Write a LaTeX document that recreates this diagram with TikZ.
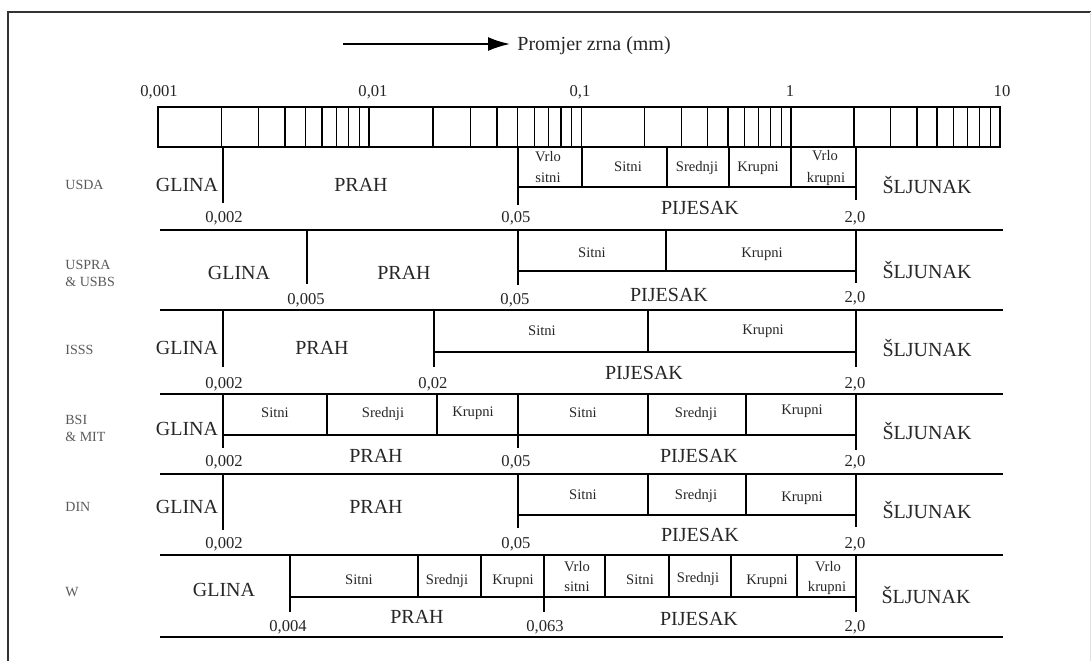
\documentclass[tikz,border=0pt]{standalone}
\usepackage{fontspec}
\setmainfont{Liberation Serif}
\usetikzlibrary{arrows.meta}
\begin{document}
\begin{tikzpicture}[x=0.5pt,y=-0.5pt,
  txt/.style={inner sep=0pt, text=black!85},
  big/.style={txt, font=\fontsize{10}{12}\selectfont, text height=6.6pt, text depth=0pt},
  sm/.style={txt, font=\fontsize{7.3}{8}\selectfont, text height=4.8pt, text depth=0pt},
  num/.style={txt, font=\fontsize{8.3}{10}\selectfont, text height=5.5pt, text depth=0pt},
  sys/.style={txt, anchor=west, text=black!65, font=\fontsize{7}{8.4}\selectfont, text height=4.6pt, text depth=0pt},
  rowline/.style={line width=1.3pt},
  vline/.style={line width=0.9pt},
  subline/.style={line width=0.9pt},
  barline/.style={line width=0.7pt}]
\useasboundingbox (0,0) rectangle (1091,661);
% frame
\draw[line width=1pt, black!80] (8,661) -- (8,11.5) -- (1091,11.5);
\draw[line width=0.5pt, black!12] (1090,11.5) -- (1090,661);
% title arrow
\coordinate (a1) at (343,44);
\node[big, anchor=west] (title) at (517,44) {Promjer zrna (mm)};
\draw[-{Latex[length=11pt,width=7pt]}, line width=1pt, shorten >=3.5pt] (a1) -- (title.west);
% scale bar
\draw[barline] (158,107) rectangle (1000,147);
\foreach \a/\b in {158/369,369/581.5,581.5/791,791/1000}{
  \foreach \m in {2,...,9}{\draw[barline] ({\a+(\b-\a)*log10(\m)},107) -- ++(0,40);}
  \draw[barline] (\b,107) -- (\b,147);}
\node[num] (t1) at (159,91) {0,001};
\node[num] (t2) at (373,91) {0,01};
\node[num] (t3) at (580,91) {0,1};
\node[num] (t4) at (790,91) {1};
\node[num] (t5) at (1002,91) {10};
% row lines
\foreach \y in {230,310,394,474,555,637} \draw[rowline] (160,\y) -- (1003,\y);
% ---------- USDA
\draw[vline] (223,147) -- (223,203);
\draw[vline] (518,147) -- (518,205);
\draw[vline] (856,147) -- (856,200);
\draw[subline] (518,187) -- (856,187);
\foreach \x in {582,667,729,791} \draw[subline] (\x,147) -- (\x,187);
\node[sys] (s1) at (65,185) {USDA};
\node[big] (u1) at (187,185) {GLINA};
\node[big] (u2) at (361,185) {PRAH};
\node[num] (u3) at (224,217) {0,002};
\node[num] (u4) at (516,217) {0,05};
\node[sm] (u5) at (548,157) {Vrlo};
\node[sm] (u6) at (548,178) {sitni};
\node[sm] (u7) at (628,167) {Sitni};
\node[sm] (u8) at (697,167) {Srednji};
\node[sm] (u9) at (758,167) {Krupni};
\node[sm] (u10) at (825,156) {Vrlo};
\node[sm] (u11) at (826,178) {krupni};
\node[big] (u12) at (700,208) {PIJESAK};
\node[num] (u13) at (855,217) {2,0};
\node[big] (u14) at (927,187) {ŠLJUNAK};
% ---------- USPRA & USBS
\draw[vline] (307,230) -- (307,284);
\draw[vline] (518,230) -- (518,285);
\draw[vline] (856,230) -- (856,283);
\draw[subline] (518,271) -- (856,271);
\draw[subline] (666,230) -- (666,271);
\node[sys] (s2) at (65,265) {USPRA};
\node[sys] (s2b) at (65,282) {\& USBS};
\node[big] (p1) at (239,273) {GLINA};
\node[big] (p2) at (404,273) {PRAH};
\node[num] (p3) at (306,299) {0,005};
\node[num] (p4) at (515,299) {0,05};
\node[sm] (p5) at (592,253) {Sitni};
\node[sm] (p6) at (762,253) {Krupni};
\node[big] (p7) at (669,295) {PIJESAK};
\node[num] (p8) at (855,297) {2,0};
\node[big] (p9) at (927,272) {ŠLJUNAK};
% ---------- ISSS
\draw[vline] (223,310) -- (223,367);
\draw[vline] (434,310) -- (434,367);
\draw[vline] (856,310) -- (856,367);
\draw[subline] (434,352) -- (856,352);
\draw[subline] (648,310) -- (648,352);
\node[sys] (s3) at (65,350) {ISSS};
\node[big] (i1) at (187,348) {GLINA};
\node[big] (i2) at (322,348) {PRAH};
\node[num] (i3) at (224,383) {0,002};
\node[num] (i4) at (433,383) {0,02};
\node[sm] (i5) at (542,331) {Sitni};
\node[sm] (i6) at (763,330) {Krupni};
\node[big] (i7) at (644,373) {PIJESAK};
\node[num] (i8) at (855,383) {2,0};
\node[big] (i9) at (927,350) {ŠLJUNAK};
% ---------- BSI & MIT
\draw[vline] (223,394) -- (223,448);
\draw[vline] (518,394) -- (518,448);
\draw[vline] (856,394) -- (856,450);
\draw[subline] (223,435) -- (856,435);
\foreach \x in {327,437,648,746} \draw[subline] (\x,394) -- (\x,435);
\node[sys] (s4) at (65,420) {BSI};
\node[sys] (s4b) at (65,437) {\& MIT};
\node[big] (b1) at (187,429) {GLINA};
\node[sm] (b2) at (275,413) {Sitni};
\node[sm] (b3) at (383,413) {Srednji};
\node[sm] (b4) at (473,412) {Krupni};
\node[sm] (b5) at (583,413) {Sitni};
\node[sm] (b6) at (696,413) {Srednji};
\node[sm] (b7) at (802,410) {Krupni};
\node[big] (b8) at (376,456) {PRAH};
\node[num] (b9) at (224,461) {0,002};
\node[num] (b10) at (516,461) {0,05};
\node[big] (b11) at (699,456) {PIJESAK};
\node[num] (b12) at (855,461) {2,0};
\node[big] (b13) at (927,433) {ŠLJUNAK};
% ---------- DIN
\draw[vline] (223,474) -- (223,530);
\draw[vline] (518,474) -- (518,528);
\draw[vline] (856,474) -- (856,527);
\draw[subline] (518,515) -- (856,515);
\foreach \x in {648,746} \draw[subline] (\x,474) -- (\x,515);
\node[sys] (s5) at (65,507) {DIN};
\node[big] (d1) at (187,507) {GLINA};
\node[big] (d2) at (376,507) {PRAH};
\node[num] (d3) at (224,543) {0,002};
\node[num] (d4) at (516,543) {0,05};
\node[sm] (d5) at (583,495) {Sitni};
\node[sm] (d6) at (696,495) {Srednji};
\node[sm] (d7) at (802,497) {Krupni};
\node[big] (d8) at (700,535) {PIJESAK};
\node[num] (d9) at (855,543) {2,0};
\node[big] (d10) at (927,512) {ŠLJUNAK};
% ---------- W
\draw[vline] (290,555) -- (290,612);
\draw[vline] (544,555) -- (544,612);
\draw[vline] (856,555) -- (856,612);
\draw[subline] (290,597) -- (856,597);
\foreach \x in {418,481,605,669,731,797} \draw[subline] (\x,555) -- (\x,597);
\node[sys] (s6) at (65,592) {W};
\node[big] (w1) at (224,590) {GLINA};
\node[sm] (w2) at (359,580) {Sitni};
\node[sm] (w3) at (447,580) {Srednji};
\node[sm] (w4) at (513,580) {Krupni};
\node[sm] (w5) at (577,567) {Vrlo};
\node[sm] (w6) at (577,587) {sitni};
\node[sm] (w7) at (640,580) {Sitni};
\node[sm] (w8) at (698,578) {Srednji};
\node[sm] (w9) at (767,580) {Krupni};
\node[sm] (w10) at (828,567) {Vrlo};
\node[sm] (w11) at (827,587) {krupni};
\node[big] (w12) at (417,617) {PRAH};
\node[num] (w13) at (288,626) {0,004};
\node[num] (w14) at (545,626) {0,063};
\node[big] (w15) at (699,619) {PIJESAK};
\node[num] (w16) at (855,626) {2,0};
\node[big] (w17) at (926,597) {ŠLJUNAK};
\end{tikzpicture}
\end{document}
